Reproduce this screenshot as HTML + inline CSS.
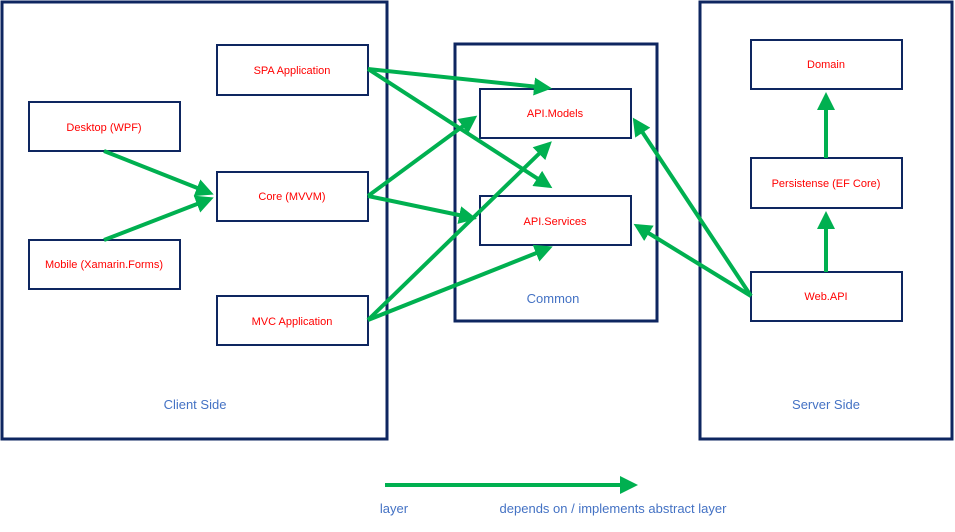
<!DOCTYPE html>
<html><head><style>body{margin:0;background:#fff}</style></head><body>
<svg width="955" height="527" xmlns="http://www.w3.org/2000/svg" font-family="Liberation Sans, sans-serif">
<defs><marker id="a" markerWidth="4.5" markerHeight="4.5" refX="3.5" refY="2.25" orient="auto"><path d="M0,0L4.5,2.25L0,4.5z" fill="#00b050"/></marker></defs>
<g fill="none" stroke="#0e2660" stroke-width="3">
<rect x="2" y="2" width="385" height="437"/>
<rect x="455" y="44" width="202" height="277"/>
<rect x="700" y="2" width="252" height="437"/>
</g>
<g fill="#fff" stroke="#0e2660" stroke-width="2">
<rect x="217" y="45" width="151" height="50"/>
<rect x="29" y="102" width="151" height="49"/>
<rect x="217" y="172" width="151" height="49"/>
<rect x="29" y="240" width="151" height="49"/>
<rect x="217" y="296" width="151" height="49"/>
<rect x="480" y="89" width="151" height="49"/>
<rect x="480" y="196" width="151" height="49"/>
<rect x="751" y="40" width="151" height="49"/>
<rect x="751" y="158" width="151" height="50"/>
<rect x="751" y="272" width="151" height="49"/>
</g>
<g stroke="#00b050" stroke-width="4" marker-end="url(#a)">
<line x1="104" y1="151" x2="210" y2="193"/>
<line x1="104" y1="240" x2="210" y2="199"/>
<line x1="368" y1="69" x2="548" y2="88"/>
<line x1="368" y1="69" x2="549" y2="186"/>
<line x1="368" y1="196" x2="474" y2="118"/>
<line x1="368" y1="196" x2="473" y2="218"/>
<line x1="368" y1="320" x2="549" y2="144"/>
<line x1="368" y1="320" x2="549" y2="248"/>
<line x1="751" y1="296" x2="635" y2="121"/>
<line x1="751" y1="296" x2="637" y2="226"/>
<line x1="826" y1="272" x2="826" y2="215"/>
<line x1="826" y1="158" x2="826" y2="96"/>
<line x1="385" y1="485" x2="634" y2="485"/>
</g>
<g fill="#ff0000" font-size="11" text-anchor="middle">
<text x="292" y="74">SPA Application</text>
<text x="104" y="131">Desktop (WPF)</text>
<text x="292" y="200">Core (MVVM)</text>
<text x="104" y="268">Mobile (Xamarin.Forms)</text>
<text x="292" y="325">MVC Application</text>
<text x="555" y="117">API.Models</text>
<text x="555" y="225">API.Services</text>
<text x="826" y="68">Domain</text>
<text x="826" y="187">Persistense (EF Core)</text>
<text x="826" y="300">Web.API</text>
</g>
<g fill="#4472c4" font-size="13" text-anchor="middle">
<text x="195" y="409">Client Side</text>
<text x="553" y="303">Common</text>
<text x="826" y="409">Server Side</text>
<text x="394" y="513">layer</text>
<text x="613" y="513">depends on / implements abstract layer</text>
</g>
</svg>
</body></html>
